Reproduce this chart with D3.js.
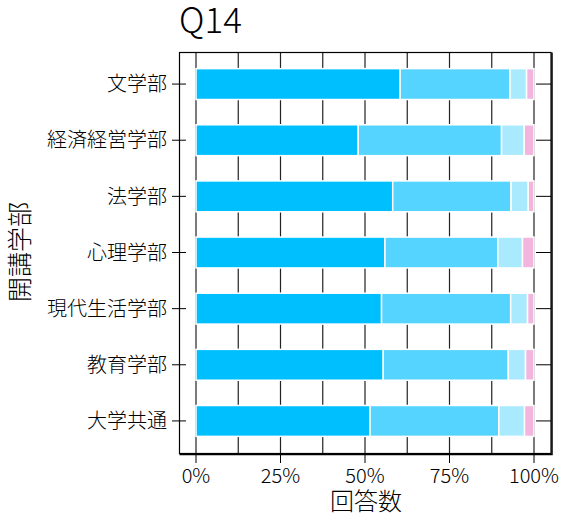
<!DOCTYPE html>
<html>
<head>
<meta charset="utf-8">
<script src="https://cdn.jsdelivr.net/npm/d3@7"></script>
<style>
  body { margin: 0; background: #fff; }
  text { font-family: "Noto Sans CJK JP", "Noto Sans", sans-serif; font-weight: 300; fill: #000; }
</style>
</head>
<body>
<div id="chart"></div>
<script>
// data (share of answers, %)
const categories = ['文学部', '経済経営学部', '法学部', '心理学部', '現代生活学部', '教育学部', '大学共通'];
const seriesKeys = ['s1', 's2', 's3', 's4'];
const s1 = [60.4, 48.0, 58.2, 55.9, 54.9, 55.4, 51.5];
const s2 = [32.5, 42.4, 35.0, 33.4, 38.2, 37.0, 38.1];
const s3 = [4.9, 6.7, 5.1, 7.3, 5.0, 5.1, 7.6];
const s4 = [2.2, 2.9, 1.7, 3.4, 1.9, 2.5, 2.8];
const colors = ['#00BFFF', '#55D4FF', '#AAEAFF', '#F2B5DD'];
const xTicks = [0, 25, 50, 75, 100];
const gridTicks = [0, 12.5, 25, 37.5, 50, 62.5, 75, 87.5, 100];

const width = 567, height = 517;
const panel = { left: 179.5, top: 52.5, right: 551, bottom: 453.5 };

const rows = categories.map((c, i) => ({ cat: c, s1: s1[i], s2: s2[i], s3: s3[i], s4: s4[i] }));

const svg = d3.select('#chart').append('svg')
  .attr('width', width).attr('height', height);

const x = d3.scaleLinear().domain([0, 100]).range([196, 534]);
const y = d3.scaleBand().domain(categories).range([56, 449])
  .paddingInner(0.45).paddingOuter(0.225);

// title
svg.append('text').attr('x', 179).attr('y', 33)
  .style('font-size', '35px').text('Q14');

// grid lines behind the bars
svg.append('g').selectAll('line')
  .data(gridTicks).enter().append('line')
  .attr('x1', d => x(d)).attr('x2', d => x(d))
  .attr('y1', panel.top).attr('y2', panel.bottom)
  .attr('stroke', '#222').attr('stroke-width', 1.2);

// bars
const stacked = d3.stack().keys(seriesKeys)(rows);
svg.append('g').selectAll('g')
  .data(stacked).enter().append('g')
  .attr('fill', (d, i) => colors[i])
  .selectAll('rect')
  .data(d => d).enter().append('rect')
  .attr('x', d => x(d[0]))
  .attr('width', d => x(d[1]) - x(d[0]))
  .attr('y', d => y(d.data.cat))
  .attr('height', y.bandwidth())
  .attr('stroke', '#fff').attr('stroke-width', 1.5);

// panel border
svg.append('rect')
  .attr('x', panel.left).attr('y', panel.top)
  .attr('width', panel.right - panel.left).attr('height', panel.bottom - panel.top)
  .attr('fill', 'none').attr('stroke', '#000').attr('stroke-width', 1.2);
svg.append('path')
  .attr('d', `M${panel.left},${panel.bottom + 1}H${panel.right + 1}V${panel.top}`)
  .attr('fill', 'none').attr('stroke', '#000').attr('stroke-width', 1.5);

// y ticks (left, crossing the border) and right inner ticks
const yt = svg.append('g');
yt.selectAll('line.l').data(categories).enter().append('line')
  .attr('x1', 172).attr('x2', 186)
  .attr('y1', d => y(d) + y.bandwidth() / 2).attr('y2', d => y(d) + y.bandwidth() / 2)
  .attr('stroke', '#000');
yt.selectAll('line.r').data(categories).enter().append('line')
  .attr('x1', 536).attr('x2', panel.right)
  .attr('y1', d => y(d) + y.bandwidth() / 2).attr('y2', d => y(d) + y.bandwidth() / 2)
  .attr('stroke', '#000');
yt.selectAll('text').data(categories).enter().append('text')
  .attr('x', 167).attr('y', d => y(d) + y.bandwidth() / 2)
  .attr('dy', '0.36em').attr('text-anchor', 'end')
  .style('font-size', '20px').text(d => d);

// x axis ticks and labels
const xt = svg.append('g');
xt.selectAll('line').data(xTicks).enter().append('line')
  .attr('x1', d => x(d)).attr('x2', d => x(d))
  .attr('y1', panel.bottom).attr('y2', 463)
  .attr('stroke', '#000');
xt.selectAll('text').data(xTicks).enter().append('text')
  .attr('x', d => x(d)).attr('y', 483)
  .attr('text-anchor', 'middle')
  .style('font-size', '20px').text(d => d + '%');

// axis titles
svg.append('text').attr('x', 366).attr('y', 510)
  .attr('text-anchor', 'middle').style('font-size', '24px').text('回答数');
svg.append('text')
  .attr('transform', 'translate(29,252) rotate(-90)')
  .attr('text-anchor', 'middle').style('font-size', '25px').text('開講学部');
</script>
</body>
</html>
